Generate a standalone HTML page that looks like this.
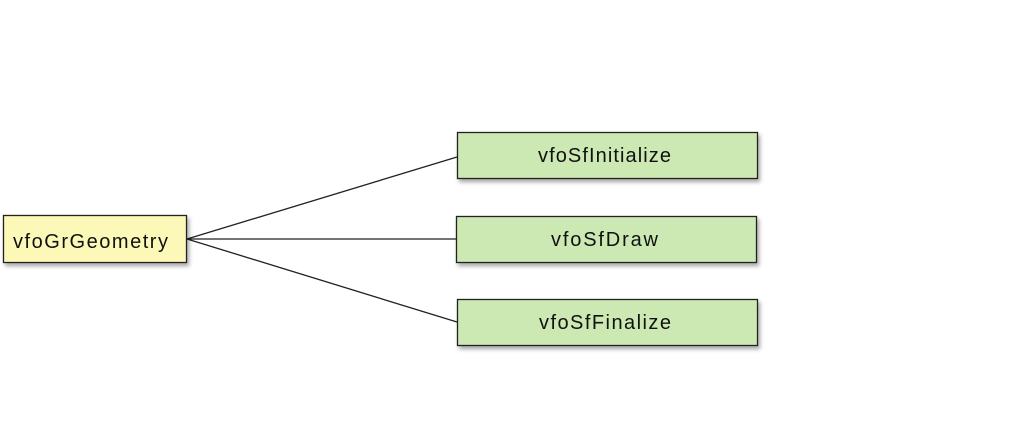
<!DOCTYPE html>
<html><head><meta charset="utf-8"><style>
html,body{margin:0;padding:0;background:#fff;}
svg{display:block;}
text{font-family:"Liberation Sans",Arial,sans-serif;font-size:20px;fill:#111;}
</style></head><body>
<svg width="1018" height="429" viewBox="0 0 1018 429" xmlns="http://www.w3.org/2000/svg">
<defs>
<filter id="sh" x="-10%" y="-20%" width="130%" height="160%">
<feGaussianBlur in="SourceAlpha" stdDeviation="2"/>
<feOffset dx="2" dy="3" result="b"/>
<feComponentTransfer><feFuncA type="linear" slope="0.35"/></feComponentTransfer>
<feMerge><feMergeNode/><feMergeNode in="SourceGraphic"/></feMerge>
</filter>
</defs>
<g stroke="#222" stroke-width="1.3" fill="none">
<line x1="187" y1="239" x2="457" y2="157"/>
<line x1="187" y1="239" x2="456" y2="239"/>
<line x1="187" y1="239" x2="457" y2="322"/>
</g>
<rect x="3.5" y="215.5" width="183" height="47" fill="#fcf9b8" stroke="#222" stroke-width="1.3" filter="url(#sh)"/>
<rect x="457.5" y="132.5" width="300" height="46" fill="#cde9b3" stroke="#222" stroke-width="1.3" filter="url(#sh)"/>
<rect x="456.5" y="216.5" width="300" height="46" fill="#cde9b3" stroke="#222" stroke-width="1.3" filter="url(#sh)"/>
<rect x="457.5" y="299.5" width="300" height="46" fill="#cde9b3" stroke="#222" stroke-width="1.3" filter="url(#sh)"/>
<text x="13" y="248" textLength="155" lengthAdjust="spacing">vfoGrGeometry</text>
<text x="538" y="162" textLength="133" lengthAdjust="spacing">vfoSfInitialize</text>
<text x="551" y="246" textLength="107" lengthAdjust="spacing">vfoSfDraw</text>
<text x="539" y="329" textLength="132" lengthAdjust="spacing">vfoSfFinalize</text>
</svg>
</body></html>
